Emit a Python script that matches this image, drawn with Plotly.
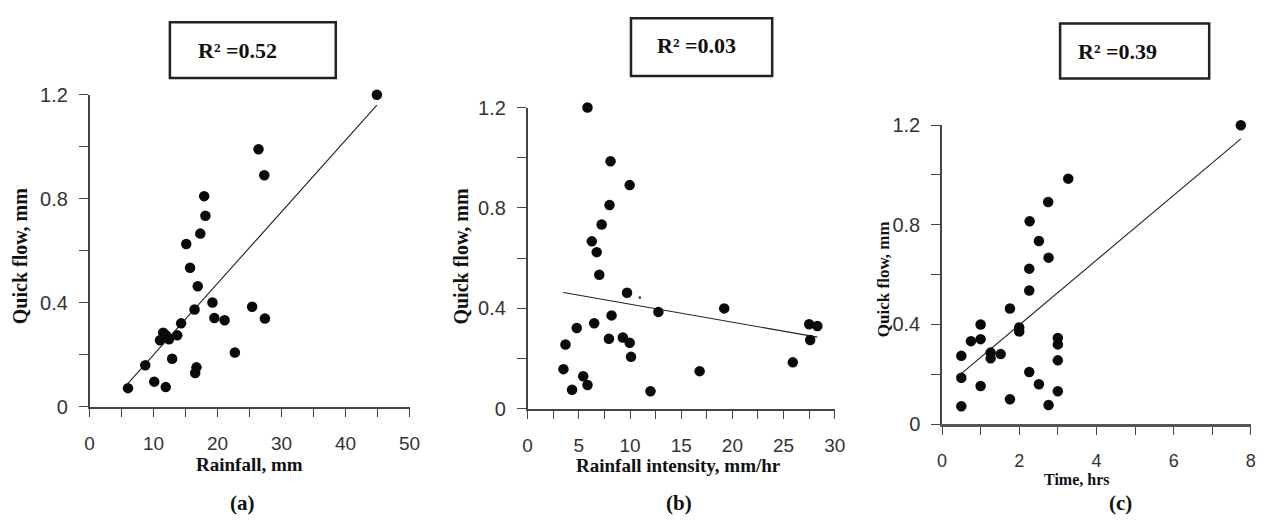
import plotly.graph_objects as go

W, H = 1266, 531

# ---------------- data ----------------
a_rainfall = [44.9, 26.4, 27.3, 17.9, 18.1, 17.3, 15.1, 15.7, 16.9, 19.2, 16.4, 25.4, 19.5, 21.1, 27.4,
              14.3, 11.5, 12.0, 13.7, 11.0, 12.4, 12.9, 22.7, 8.7, 16.7, 16.5, 10.1, 11.9, 6.0]
a_quickflow = [1.20, 0.99, 0.89, 0.81, 0.735, 0.666, 0.626, 0.535, 0.464, 0.401, 0.374, 0.385, 0.342, 0.333, 0.340,
               0.321, 0.285, 0.274, 0.275, 0.256, 0.26, 0.185, 0.209, 0.160, 0.152, 0.130, 0.097, 0.076, 0.072]
a_slope, a_intercept = 0.0275, -0.075

b_intensity = [5.85, 8.1, 9.97, 8.0, 7.23, 6.27, 6.75, 7.0, 9.71, 12.77, 19.2, 8.2, 6.5, 4.8, 7.94,
               9.3, 9.97, 3.7, 10.1, 3.5, 16.8, 5.43, 5.85, 4.34, 12.0, 25.9, 27.5, 28.3, 27.6]
b_quickflow = [1.20, 0.986, 0.891, 0.812, 0.734, 0.667, 0.624, 0.534, 0.462, 0.386, 0.40, 0.372, 0.341, 0.322, 0.279,
               0.284, 0.263, 0.256, 0.207, 0.158, 0.150, 0.13, 0.095, 0.076, 0.07, 0.185, 0.337, 0.33, 0.274]
b_stray_x, b_stray_y = [10.96], [0.443]
b_slope, b_intercept = -0.00715, 0.488

c_time = [7.74, 3.27, 2.75, 2.27, 2.51, 2.76, 2.26, 2.26, 1.76, 1.0, 2.0, 2.0, 1.0, 0.75, 3.0,
          3.0, 1.26, 1.26, 1.52, 0.5, 3.0, 0.5, 2.26, 1.0, 2.51, 3.0, 1.76, 0.5, 2.76]
c_quickflow = [1.199, 0.985, 0.891, 0.814, 0.735, 0.668, 0.624, 0.536, 0.464, 0.40, 0.388, 0.372, 0.341, 0.333, 0.346,
               0.32, 0.287, 0.264, 0.281, 0.274, 0.256, 0.186, 0.209, 0.153, 0.160, 0.132, 0.10, 0.072, 0.077]
c_slope, c_intercept = 0.1301, 0.1376

r2_texts = ["R² =0.52", "R² =0.03", "R² =0.39"]
x_titles = ["Rainfall, mm", "Rainfall intensity, mm/hr", "Time, hrs"]
y_title = "Quick flow, mm"
panel_labels = ["(a)", "(b)", "(c)"]

y_tickvals = [0, 0.4, 0.8, 1.2]
y_ticktext = ["0", "0.4", "0.8", "1.2"]
y_minorvals = [0.2, 0.6, 1.0]
a_xtickvals = [0, 10, 20, 30, 40, 50]
a_xminor = [5, 15, 25, 35, 45]
b_xtickvals = [0, 5, 10, 15, 20, 25, 30]
b_xminor = [2.5, 7.5, 12.5, 17.5, 22.5, 27.5]
c_xtickvals = [0, 2, 4, 6, 8]
c_xminor = [1, 3, 5, 7]


# ---------------- helpers ----------------
def px(x):
    return x / W


def py(y):
    return 1 - y / H


fig = go.Figure()

panels = [
    dict(x=a_rainfall, y=a_quickflow, slope=a_slope, icpt=a_intercept, xr=[0, 50],
         xdom=[85.7, 409.7], ydom=[413, 87.3], xt=a_xtickvals, xm=a_xminor, xf=19, ax="x", ay="y"),
    dict(x=b_intensity, y=b_quickflow, slope=b_slope, icpt=b_intercept, xr=[0, 30],
         xdom=[529.3, 840.4], ydom=[415, 100.7], xt=b_xtickvals, xm=b_xminor, xf=19, ax="x2", ay="y2"),
    dict(x=c_time, y=c_quickflow, slope=c_slope, icpt=c_intercept, xr=[0, 8],
         xdom=[949, 1261.8], ydom=[431, 119], xt=c_xtickvals, xm=c_xminor, xf=18, ax="x3", ay="y3"),
]

tick_font = dict(family="Liberation Sans, Arial", size=20, color="#333")
for i, p in enumerate(panels):
    xs = [min(p["x"]), max(p["x"])]
    ys = [p["slope"] * v + p["icpt"] for v in xs]
    fig.add_trace(go.Scatter(x=xs, y=ys, mode="lines", line=dict(color="#222", width=1.1),
                             xaxis=p["ax"], yaxis=p["ay"], showlegend=False, cliponaxis=False))
    fig.add_trace(go.Scatter(x=p["x"], y=p["y"], mode="markers",
                             marker=dict(color="#0a0a0a", size=10.5, line=dict(width=0)),
                             xaxis=p["ax"], yaxis=p["ay"], showlegend=False, cliponaxis=False))
    sfx = "" if i == 0 else str(i + 1)
    xl = dict(domain=[px(p["xdom"][0]), px(p["xdom"][1])], range=p["xr"], anchor=p["ay"],
              tickmode="array", tickvals=p["xt"], ticktext=[str(v) for v in p["xt"]],
              ticks="outside", ticklen=8, tickwidth=1.2,
              tickcolor="#444", showline=True, linecolor="#444", linewidth=1.5,
              minor=dict(tickvals=p["xm"], ticks="outside", ticklen=8, tickwidth=1.2, tickcolor="#444",
                         showgrid=False),
              showgrid=False, zeroline=False, tickfont=dict(family="Liberation Sans, Arial",
                                                            size=p["xf"], color="#333"),
              ticklabelstandoff=11)
    yl = dict(domain=[py(p["ydom"][0]), py(p["ydom"][1])], range=[0, 1.2], anchor=p["ax"],
              tickmode="array", tickvals=y_tickvals, ticktext=y_ticktext,
              ticks="outside", ticklen=9, tickwidth=1.2,
              tickcolor="#444", showline=True, linecolor="#444", linewidth=1.5,
              minor=dict(tickvals=y_minorvals, ticks="outside", ticklen=9, tickwidth=1.2, tickcolor="#444",
                         showgrid=False),
              showgrid=False, zeroline=False, tickfont=tick_font, ticklabelstandoff=7)
    if i == 2:
        xl["linewidth"] = 2.5
        xl["linecolor"] = "#555"
    fig.update_layout(**{"xaxis" + sfx: xl, "yaxis" + sfx: yl})

fig.add_trace(go.Scatter(x=b_stray_x, y=b_stray_y, mode="markers", marker=dict(color="#222", size=2.5),
                         xaxis="x2", yaxis="y2", showlegend=False))

serif = "Liberation Serif, Times New Roman"
shapes = []
annotations = []

# R^2 boxes
boxes = [(167, 11.7, 335, 70), (634, 7.5, 777, 67.7), (1068.6, 13, 1219.6, 70.3)]
r2_pos = [(235.5, 41.7), (700, 35.5), (1127, 42.6)]
for (x0, y0, x1, y1), (tx, ty), t in zip(boxes, r2_pos, r2_texts):
    shapes.append(dict(type="rect", xref="paper", yref="paper", x0=px(x0), x1=px(x1), y0=py(y1), y1=py(y0),
                       line=dict(color="#222", width=2.5), fillcolor="rgba(0,0,0,0)"))
    annotations.append(dict(text=t, xref="paper", yref="paper", x=px(tx), y=py(ty), showarrow=False,
                            xanchor="center", yanchor="middle",
                            font=dict(family=serif, size=22, color="#111", weight="bold")))

# x-axis titles
xt_pos = [(247.5, 473, 19), (682, 474, 19), (1085, 489, 16)]
for (tx, ty, fs), t in zip(xt_pos, x_titles):
    annotations.append(dict(text=t, xref="paper", yref="paper", x=px(tx), y=py(ty), showarrow=False,
                            xanchor="center", yanchor="middle",
                            font=dict(family=serif, size=fs, color="#111", weight="bold")))

# y-axis titles
yt_pos = [(16, 256, 20), (462, 256, 20), (890, 280, 17)]
for (tx, ty, fs) in yt_pos:
    annotations.append(dict(text=y_title, xref="paper", yref="paper", x=px(tx), y=py(ty), showarrow=False,
                            xanchor="center", yanchor="middle", textangle=-90,
                            font=dict(family=serif, size=fs, color="#111", weight="bold")))

# panel labels
pl_pos = [(241, 513), (683, 513), (1130, 513)]
for (tx, ty), t in zip(pl_pos, panel_labels):
    annotations.append(dict(text=t, xref="paper", yref="paper", x=px(tx), y=py(ty), showarrow=False,
                            xanchor="center", yanchor="middle",
                            font=dict(family=serif, size=21, color="#111", weight="bold")))

fig.update_layout(width=W, height=H, margin=dict(l=0, r=0, t=0, b=0, pad=0),
                  paper_bgcolor="white", plot_bgcolor="white",
                  shapes=shapes, annotations=annotations, showlegend=False)

fig.write_html("out.html", config={"displayModeBar": False})
